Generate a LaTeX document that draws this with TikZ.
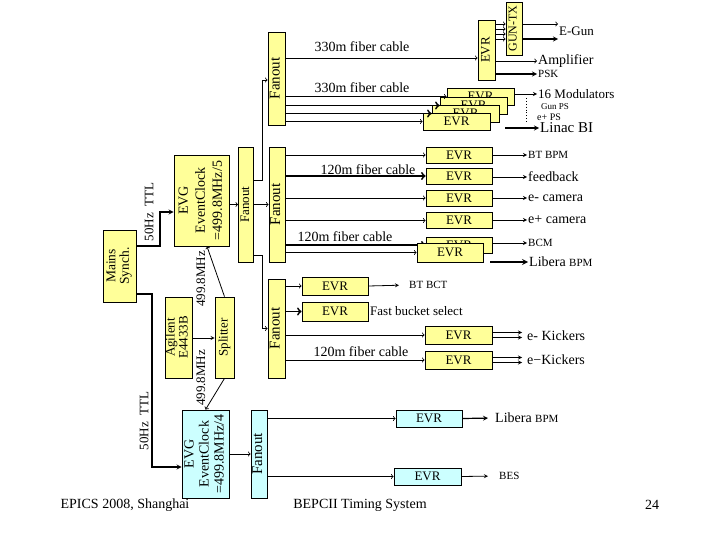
\documentclass[tikz,border=0pt]{standalone}
\usepackage{fontspec}
\setmainfont{Liberation Serif}
\usetikzlibrary{arrows}
\definecolor{evryellow}{RGB}{255,255,153}
\definecolor{evrcyan}{RGB}{204,255,255}
\newcommand{\vtext}[1]{\rotatebox{90}{\begin{tabular}{@{}c@{}}#1\end{tabular}}}
\begin{document}
\begin{tikzpicture}[x=1pt,y=-1pt,
    sz/.style 2 args={minimum width=#1pt,minimum height=#2pt},
    ybox/.style={draw,fill=evryellow,line width=0.8pt,inner sep=0pt,font=\fontsize{13}{15}\selectfont},
    cbox/.style={ybox,fill=evrcyan},
    lbl/.style={anchor=west,inner sep=1pt,font=\fontsize{14}{15}\selectfont},
    slbl/.style={anchor=west,inner sep=1pt,font=\fontsize{11}{12}\selectfont},
    tlbl/.style={anchor=west,inner sep=1pt,font=\fontsize{10}{11}\selectfont},
    fib/.style={inner sep=0pt,font=\fontsize{14}{15}\selectfont},
    wire/.style={line width=0.8pt,->},
    fat/.style={line width=1.8pt,->},
    outarr/.style={line width=0.8pt,-stealth}]
  \useasboundingbox (0,0) rectangle (720,540);
  % Draw sources and event generators
  \node[ybox,sz={33}{72},font=\fontsize{13.5}{13.5}\selectfont] (mains) at (119.5,266) {\vtext{Mains\\Synch.}};
  \node[ybox,sz={27}{81},font=\fontsize{13}{13}\selectfont] (agilent) at (178.5,337.5) {\vtext{Agilent\\E4433B}};
  \node[ybox,sz={19}{81}] (splitter) at (224.5,337.5) {\vtext{Splitter}};
  \node[ybox,sz={55}{91},font=\fontsize{14}{17}\selectfont] (evg) at (201.5,200.5) {\vtext{EVG\\EventClock\\=499.8MHz/5}};
  \node[cbox,sz={47}{88},font=\fontsize{14}{15}\selectfont] (lvg) at (205.5,454) {\vtext{EVG\\EventClock\\=499.8MHz/4}};
  % Draw fanouts
  \node[ybox,sz={17}{93},font=\fontsize{15}{16}\selectfont] (fanTop) at (276.5,78.5) {\vtext{Fanout}};
  \node[ybox,sz={12}{115}] (fanA) at (246,204.5) {\vtext{Fanout}};
  \node[ybox,sz={16}{115},font=\fontsize{15}{16}\selectfont] (fanB) at (277,204.5) {\vtext{Fanout}};
  \node[ybox,sz={17}{99},font=\fontsize{15}{16}\selectfont] (fanC) at (276.5,328.5) {\vtext{Fanout}};
  \node[cbox,sz={16}{88},font=\fontsize{15}{16}\selectfont] (fanD) at (259,454) {\vtext{Fanout}};
  % Left side wiring
  \node[fib,font=\fontsize{13}{14}\selectfont] (ttlA) at (149,212) {\rotatebox{90}{50Hz\ \ TTL}};
  \node[fib,font=\fontsize{13}{14}\selectfont] (ttlB) at (144,421) {\rotatebox{90}{50Hz\ \ TTL}};
  \node[fib,font=\fontsize{13}{14}\selectfont] (mhzA) at (201,279) {\rotatebox{90}{499.8MHz}};
  \node[fib,font=\fontsize{13}{14}\selectfont] (mhzB) at (201,378) {\rotatebox{90}{499.8MHz}};
  \draw[line width=1.2pt,-stealth] (mains.east |- 0,246) -| (160,212) -- (evg.west |- 0,212);
  \draw[line width=1.2pt,-stealth] (mains.east |- 0,294) -| (152,467) -- (lvg.west |- 0,467);
  \draw[line width=0.8pt,-stealth] (agilent.east |- 0,338) -- (splitter.west |- 0,338);
  \draw[wire] (splitter.north) -- ([xshift=5.5pt]evg.south);
  \draw[wire] (splitter.south) -- (lvg.north);
  \draw[wire] (evg.east |- fanA.west) -- (fanA.west);
  \draw[wire] (fanA.east) -- (fanB.west);
  \draw[wire] (fanA.east |- 0,180) -- (262,180) |- (fanTop.west |- 0,80);
  \draw[wire] (fanA.east |- 0,255) -- (262,255) |- (fanC.west);
  \draw[wire] (lvg.east) -- (fanD.west);
  % Linac: gun EVR and GUN-TX
  \node[ybox,sz={17}{60}] (evrGun) at (486.5,50) {\vtext{EVR}};
  \node[ybox,sz={16}{53},font=\fontsize{12}{13}\selectfont] (guntx) at (514,28.5) {\vtext{GUN-TX}};
  \node[fib] (fibA) at (362,47) {330m fiber cable};
  \draw[wire] (fanTop.east |- 0,58) -- (evrGun.west |- 0,58);
  \foreach \yy in {24,29,34,39}
    \draw[line width=0.8pt,->] (evrGun.east |- 0,\yy) -- (guntx.west |- 0,\yy);
  \node[lbl,font=\fontsize{13}{14}\selectfont] (egun) at (558,31) {E-Gun};
  \draw[wire] (guntx.east |- 0,24) -- (egun.west |- 0,24);
  \draw[line width=1.2pt,-stealth] (guntx.east |- 0,39) -- (egun.west |- 0,39);
  \node[lbl] (amp) at (537,61) {Amplifier};
  \node[slbl] (psk) at (537,74) {PSK};
  \draw[wire] (evrGun.east |- amp.west) -- (amp.west);
  \draw[line width=1.2pt,-stealth] (evrGun.east |- psk.west) -- (psk.west);
  % Linac: stacked EVRs
  \node[fib] (fibB) at (362,88) {330m fiber cable};
  \node[ybox,sz={67}{17}] (evrS1) at (480.5,96.5) {EVR};
  \node[ybox,sz={67}{17}] (evrS2) at (473.5,105.5) {EVR};
  \node[ybox,sz={67}{17}] (evrS3) at (465.5,113.5) {EVR};
  \node[ybox,sz={67}{17}] (evrS4) at (456.5,121.5) {EVR};
  \draw[wire] (fanTop.east |- evrS1.west) -- (evrS1.west);
  \draw[fat] (fanTop.east |- evrS2.west) -- (evrS2.west);
  \draw[fat] (fanTop.east |- evrS3.west) -- (evrS3.west);
  \draw[wire] (fanTop.east |- evrS4.west) -- (evrS4.west);
  \node[lbl,font=\fontsize{13}{14}\selectfont] (mods) at (537,94) {16 Modulators};
  \node[tlbl,font=\fontsize{9}{10}\selectfont] (gunps) at (540,107) {Gun PS};
  \node[tlbl] (eps) at (536,117) {e+ PS};
  \node[lbl,font=\fontsize{15}{16}\selectfont] (linac) at (539,128) {Linac BI};
  \coordinate (linacSrc) at (505,128);
  \draw[outarr] (evrS1.east |- mods.west) -- (mods.west);
  \draw[dotted,line width=0.9pt] (526,98) -- (526,124);
  \draw[line width=1.2pt,-stealth] (linacSrc) -- (linac.west);
  % Transport line EVRs
  \node[ybox,sz={66}{16}] (evrM1) at (459,155) {EVR};
  \node[ybox,sz={66}{16}] (evrM2) at (459,176) {EVR};
  \node[ybox,sz={66}{16}] (evrM3) at (459,198) {EVR};
  \node[ybox,sz={66}{16}] (evrM4) at (459,220.5) {EVR};
  \node[ybox,sz={66}{16}] (evrM5) at (459,245) {EVR};
  \node[fib] (fibC) at (368,170) {120m fiber cable};
  \node[fib] (fibD) at (345,237) {120m fiber cable};
  \draw[wire] (fanB.east |- evrM1.west) -- (evrM1.west);
  \draw[fat] (fanB.east |- evrM2.west) -- (evrM2.west);
  \draw[wire] (fanB.east |- evrM3.west) -- (evrM3.west);
  \draw[wire] (fanB.east |- evrM4.west) -- (evrM4.west);
  \draw[fat] (fanB.east |- evrM5.west) -- (evrM5.west);
  \node[ybox,sz={66}{19}] (evrM6) at (450,252.5) {EVR};
  \draw[wire] (fanB.east |- evrM6.west) -- (evrM6.west);
  \node[slbl] (btbpm) at (527,155) {BT BPM};
  \node[lbl] (feed) at (527,177) {feedback};
  \node[lbl] (ecam) at (527,198) {e- camera};
  \node[lbl] (pcam) at (527,220) {e+ camera};
  \node[slbl] (bcm) at (527,243) {BCM};
  \node[lbl] (libM) at (528,262) {Libera {\fontsize{11}{12}\selectfont BPM}};
  \draw[outarr] (evrM1.east) -- (btbpm.west);
  \draw[outarr] (evrM2.east |- feed.west) -- (feed.west);
  \draw[outarr] (evrM3.east |- ecam.west) -- (ecam.west);
  \draw[outarr] (evrM4.east |- pcam.west) -- (pcam.west);
  \draw[outarr] (evrM5.east |- bcm.west) -- (bcm.west);
  \draw[line width=1.6pt,-stealth] ([xshift=7pt]evrM6.east |- libM.west) -- (libM.west);
  % Storage ring EVRs
  \node[ybox,sz={66}{18}] (evrC1) at (335,286) {EVR};
  \node[ybox,sz={66}{19}] (evrC2) at (335,311.5) {EVR};
  \node[ybox,sz={67}{18}] (evrC3) at (458.5,335) {EVR};
  \node[ybox,sz={67}{18}] (evrC4) at (458.5,360) {EVR};
  \node[fib] (fibE) at (361,352) {120m fiber cable};
  \draw[wire] (fanC.east |- evrC1.west) -- (evrC1.west);
  \draw[fat] (fanC.east |- evrC2.west) -- (evrC2.west);
  \draw[wire] (fanC.east |- evrC3.west) -- (evrC3.west);
  \draw[wire] (fanC.east |- evrC4.west) -- (evrC4.west);
  \node[slbl] (btbct) at (408,285) {BT BCT};
  \node[lbl,font=\fontsize{13}{14}\selectfont] (fbs) at (369,311) {Fast bucket select};
  \node[lbl] (kickA) at (526,336) {e- Kickers};
  \node[lbl] (kickB) at (526,360) {e−Kickers};
  \draw[outarr,shorten >=9pt] (evrC1.east) -- (btbct.west);
  \foreach \dy in {-2.5,2.5} {
    \draw[outarr,shorten >=4pt] ([yshift=\dy pt]evrC3.east) -- ([yshift=\dy pt]evrC3.east -| kickA.west);
    \draw[outarr,shorten >=4pt] ([yshift=\dy pt]evrC4.east) -- ([yshift=\dy pt]evrC4.east -| kickB.west);
  }
  % BES line EVRs
  \node[cbox,sz={66}{17}] (evrD1) at (429,418.5) {EVR};
  \node[cbox,sz={67}{17}] (evrD2) at (427.5,476.5) {EVR};
  \draw[wire] (fanD.east |- evrD1.west) -- (evrD1.west);
  \draw[wire] (fanD.east |- evrD2.west) -- (evrD2.west);
  \node[lbl] (libD) at (494,418) {Libera {\fontsize{11}{12}\selectfont BPM}};
  \node[slbl] (bes) at (498,476) {BES};
  \draw[line width=1.2pt,-stealth,shorten >=6pt] (evrD1.east) -- (libD.west);
  \draw[outarr,shorten >=10pt] (evrD2.east) -- (bes.west);
  % Footer
  \node[font=\fontsize{14}{15}\selectfont] (footL) at (125,505) {EPICS 2008, Shanghai};
  \node[font=\fontsize{14}{15}\selectfont] (footM) at (360,505) {BEPCII Timing System};
  \node[font=\fontsize{14}{15}\selectfont] (footR) at (652,505) {24};
\end{tikzpicture}
\end{document}
